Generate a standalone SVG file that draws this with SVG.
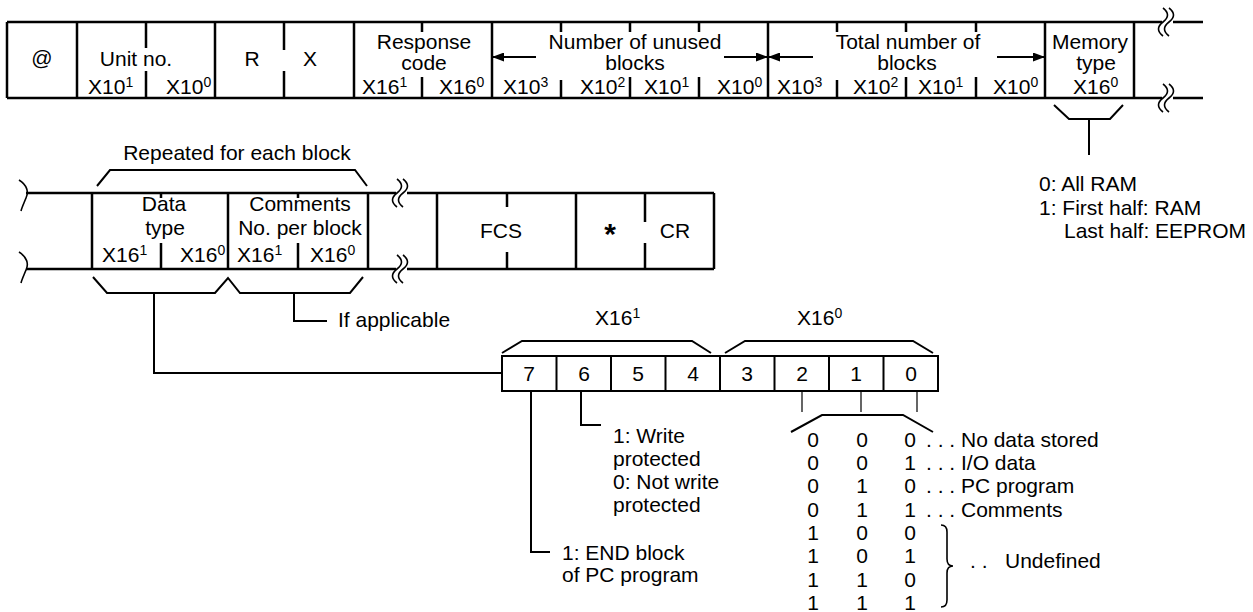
<svg xmlns="http://www.w3.org/2000/svg" width="1253" height="612" viewBox="0 0 1253 612">
<style>
text{font-family:"Liberation Sans",Arial,Helvetica,sans-serif;font-size:21px;fill:#000}
.c{text-anchor:middle}
.sup{font-size:14px}
.f{stroke:#000;stroke-width:2.5;fill:none;stroke-linecap:butt}
.k{stroke:#000;stroke-width:2;fill:none;stroke-linejoin:miter}
.th{stroke:#000;stroke-width:1.2;fill:none}
.w{stroke:#000;stroke-width:1.6;fill:none}
</style>
<defs>
<marker id="ah" markerUnits="userSpaceOnUse" markerWidth="13" markerHeight="9" refX="12" refY="4.5" orient="auto">
<path d="M0,0 L12,4.5 L0,9 z" fill="#000"/>
</marker>
<path id="brk" d="M-1,-14 q9,7 0,14 q-9,7 0,14" class="w"/>
</defs>

<g id="response-frame">
<path class="f" d="M7,22 H1162 M1173,22 H1203 M7,98 H1162 M1173,98 H1203"/>
<path class="f" d="M7,22 V98 M77,22 V98 M215,22 V98 M354,22 V98 M492,22 V98 M768,22 V98 M1045,22 V98 M1134,22 V98"/>
<path class="f" d="M146,22 V48 M146,71 V98 M284,22 V50 M284,71 V98 M422,22 V32 M422,77 V98 M561,22 V32 M561,80 V98 M630,22 V32 M630,77 V98 M699,22 V32 M699,77 V98 M837,22 V32 M837,80 V98 M906,22 V32 M906,77 V98 M976,22 V32 M976,77 V98"/>
<use href="#brk" x="1164" y="22"/><use href="#brk" x="1170" y="22"/>
<use href="#brk" x="1164" y="98"/><use href="#brk" x="1170" y="98"/>
</g>

<g id="at-field"><text class="c" x="42" y="65">@</text></g>
<g id="unit-no">
<text class="c" x="136" y="66">Unit no.</text>
<text x="88" y="94">X10<tspan class="sup" dy="-7">1</tspan></text>
<text x="166" y="94">X10<tspan class="sup" dy="-7">0</tspan></text>
</g>
<g id="r-field"><text class="c" x="252" y="66">R</text></g>
<g id="x-field"><text class="c" x="310" y="66">X</text></g>
<g id="response-code">
<text class="c" x="424" y="49">Response</text>
<text class="c" x="424" y="70">code</text>
<text x="362" y="94">X16<tspan class="sup" dy="-7">1</tspan></text>
<text x="439" y="94">X16<tspan class="sup" dy="-7">0</tspan></text>
</g>
<g id="unused-blocks">
<text class="c" x="635" y="49">Number of unused</text>
<text class="c" x="635" y="70">blocks</text>
<text x="503" y="94">X10<tspan class="sup" dy="-7">3</tspan></text>
<text x="580" y="94">X10<tspan class="sup" dy="-7">2</tspan></text>
<text x="644" y="94">X10<tspan class="sup" dy="-7">1</tspan></text>
<text x="717" y="94">X10<tspan class="sup" dy="-7">0</tspan></text>
</g>
<g id="total-blocks">
<text class="c" x="908" y="49">Total number of</text>
<text class="c" x="907" y="70">blocks</text>
<text x="777" y="94">X10<tspan class="sup" dy="-7">3</tspan></text>
<text x="853" y="94">X10<tspan class="sup" dy="-7">2</tspan></text>
<text x="918" y="94">X10<tspan class="sup" dy="-7">1</tspan></text>
<text x="993" y="94">X10<tspan class="sup" dy="-7">0</tspan></text>
</g>
<g id="memory-type">
<text class="c" x="1090" y="49">Memory</text>
<text class="c" x="1096" y="70">type</text>
<text x="1073" y="94">X16<tspan class="sup" dy="-7">0</tspan></text>
</g>
<g id="memory-note">
<text x="1039" y="191">0: All RAM</text>
<text x="1039" y="215">1: First half: RAM</text>
<text x="1064" y="238">Last half: EEPROM</text>
</g>

<g id="block-frame">
<path class="f" d="M26,193 H396 M407,193 H714 M26,269 H396 M407,269 H714"/>
<path class="w" d="M19,180 C27,185 29,192 26,198 C24,203 22,207 21,211 M19,252 C27,257 29,264 26,270 C24,275 22,279 21,283"/>
<use href="#brk" x="398" y="193"/><use href="#brk" x="404" y="193"/>
<use href="#brk" x="398" y="269"/><use href="#brk" x="404" y="269"/>
<path class="f" d="M92,193 V269 M228,193 V269 M368,193 V269 M161,193 V198 M161,243 V269 M298,193 V198 M298,243 V269"/>
<path class="k" d="M97,186 L110,170 L355,170 L367,186"/>
<text class="c" x="237" y="160">Repeated for each block</text>
</g>
<g id="data-type">
<text class="c" x="164" y="211">Data</text>
<text class="c" x="165" y="235">type</text>
<text x="102" y="262">X16<tspan class="sup" dy="-7">1</tspan></text>
<text x="180" y="262">X16<tspan class="sup" dy="-7">0</tspan></text>
</g>
<g id="comments">
<text class="c" x="300" y="211">Comments</text>
<text class="c" x="300" y="235">No. per block</text>
<text x="237" y="262">X16<tspan class="sup" dy="-7">1</tspan></text>
<text x="310" y="262">X16<tspan class="sup" dy="-7">0</tspan></text>
</g>
<g id="fcs">
<path class="f" d="M437,193 V269 M576,193 V269 M507,193 V207 M507,252 V269"/>
<text class="c" x="501" y="238">FCS</text>
</g>
<g id="terminator">
<path class="f" d="M714,193 V269 M645,193 V222 M645,243 V269"/>
<text class="c" x="610" y="244" style="font-weight:bold;font-size:30px">*</text>
<text class="c" x="675" y="238">CR</text>
</g>
<g id="if-applicable"><text x="338" y="327">If applicable</text></g>

<g id="bit-box">
<rect class="k" x="502" y="356" width="436" height="35"/>
<path class="k" d="M556.5,356 V391 M611,356 V391 M665.5,356 V391 M720,356 V391 M774.5,356 V391 M829,356 V391 M883.5,356 V391"/>
<text class="c" x="529" y="381">7</text>
<text class="c" x="584" y="381">6</text>
<text class="c" x="638" y="381">5</text>
<text class="c" x="693" y="381">4</text>
<text class="c" x="747" y="381">3</text>
<text class="c" x="802" y="381">2</text>
<text class="c" x="856" y="381">1</text>
<text class="c" x="911" y="381">0</text>
<path class="k" d="M502,353 L522,341 L692,341 L711,353 M725,353 L745,341 L913,341 L933,353"/>
<text x="595" y="325">X16<tspan class="sup" dy="-7">1</tspan></text>
<text x="797" y="325">X16<tspan class="sup" dy="-7">0</tspan></text>
</g>

<g id="bit6-note">
<text x="613" y="443">1: Write</text>
<text x="613" y="466">protected</text>
<text x="613" y="489">0: Not write</text>
<text x="613" y="512">protected</text>
</g>
<g id="bit7-note">
<text x="562" y="560">1: END block</text>
<text x="562" y="582">of PC program</text>
</g>

<g id="data-type-table">
<g class="c">
<text x="813" y="447">0</text><text x="862" y="447">0</text><text x="910" y="447">0</text>
<text x="813" y="470">0</text><text x="862" y="470">0</text><text x="910" y="470">1</text>
<text x="813" y="493">0</text><text x="862" y="493">1</text><text x="910" y="493">0</text>
<text x="813" y="517">0</text><text x="862" y="517">1</text><text x="910" y="517">1</text>
<text x="813" y="540">1</text><text x="862" y="540">0</text><text x="910" y="540">0</text>
<text x="813" y="563">1</text><text x="862" y="563">0</text><text x="910" y="563">1</text>
<text x="813" y="587">1</text><text x="862" y="587">1</text><text x="910" y="587">0</text>
<text x="813" y="610">1</text><text x="862" y="610">1</text><text x="910" y="610">1</text>
</g>
<text x="926" y="447">. . . No data stored</text>
<text x="926" y="470">. . . I/O data</text>
<text x="926" y="493">. . . PC program</text>
<text x="926" y="517">. . . Comments</text>
<path class="w" d="M941,525 Q947,525 947,532 L947,559 Q947,566 953,566 Q947,566 947,573 L947,600 Q947,607 941,607"/>
<text x="970" y="568">. .</text>
<text x="1005" y="568">Undefined</text>
</g>

<g id="connectors">
<line class="k" x1="536" y1="57" x2="492" y2="57" marker-end="url(#ah)"/>
<line class="k" x1="724" y1="57" x2="768" y2="57" marker-end="url(#ah)"/>
<line class="k" x1="813" y1="57" x2="768" y2="57" marker-end="url(#ah)"/>
<line class="k" x1="997" y1="57" x2="1045" y2="57" marker-end="url(#ah)"/>
<path class="k" d="M1054,105 L1069,119 L1110,119 L1123,105 M1089,119 V155"/>
<path class="k" d="M93,277 L107,293 L215,293 L228,278 L240,293 L350,293 L363,277"/>
<path class="k" d="M154,293 V373 H502"/>
<path class="k" d="M294,293 V321 H327"/>
<path class="k" d="M531,391 V552 H550"/>
<path class="k" d="M581,391 V425 H601"/>
<path class="th" d="M802,391 V412 M861,391 V412 M917,391 V412"/>
<path class="k" d="M791,432 L822,415 L903,415 L933,432"/>
</g>
</svg>
